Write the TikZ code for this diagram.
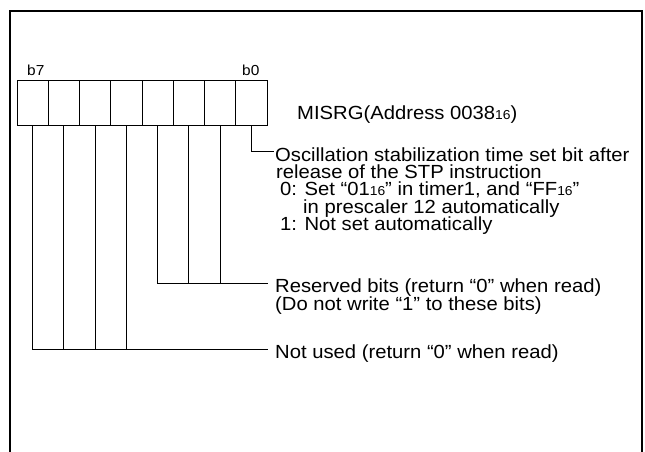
\documentclass[tikz,border=0pt]{standalone}
\usepackage{fontspec}
\setmainfont{Liberation Sans}[FakeStretch=1.065]
\newcommand{\subsix}{{\fontsize{13}{13}\selectfont 16}}
\begin{document}
\begin{tikzpicture}[x=1pt,y=-1pt,
  frame/.style={line width=2pt},
  cell/.style={draw, line width=0.9pt, minimum width=31.25pt, minimum height=45pt, inner sep=0pt, outer sep=0pt},
  conn/.style={line width=0.9pt},
  lbl/.style={anchor=base west, inner sep=0pt, font=\fontsize{19}{19}\selectfont},
  bitlbl/.style={anchor=base west, inner sep=0pt, font=\fontsize{14.5}{14.5}\selectfont}]
\useasboundingbox (0,0) rectangle (645,451);
\draw[frame] (10,452) -- (10,11) -- (642,11) -- (642,452);
% register cells, c0 = b0 (right) ... c7 = b7 (left)
\foreach \i in {0,...,7}
  \node[cell] (c\i) at ({267-15.625-31.25*\i},102.5) {};
\node[bitlbl] (b7) at (27,75) {b7};
\node[bitlbl] (b0) at (242,75) {b0};
\node[lbl] (name) at (297,119) {MISRG(Address 0038\subsix)};
% bit 0 description
\node[lbl] (o1) at (275,161.5) {Oscillation stabilization time set bit after};
\node[lbl] (o2) at (276,178.7) {release of the STP instruction};
\node[lbl] (o3) at (280,195.9) {0: Set “01\subsix” in timer1, and “FF\subsix”};
\node[lbl] (o4) at (303,213.1) {in prescaler 12 automatically};
\node[lbl] (o5) at (280,230.3) {1: Not set automatically};
% reserved
\node[lbl] (r1) at (275,292) {Reserved bits (return “0” when read)};
\node[lbl] (r2) at (275,310) {(Do not write “1” to these bits)};
% not used
\node[lbl] (n1) at (275,358.5) {Not used (return “0” when read)};
% connectors
\coordinate (oe) at (274,151.5);
\coordinate (re) at (268,283.5);
\coordinate (ne) at (268,349);
\draw[conn] (c0.south) |- (oe);
\draw[conn] (c3.south) |- (re);
\draw[conn] (c2.south) -- (c2.south |- re);
\draw[conn] (c1.south) -- (c1.south |- re);
\draw[conn] (c7.south) |- (ne);
\draw[conn] (c6.south) -- (c6.south |- ne);
\draw[conn] (c5.south) -- (c5.south |- ne);
\draw[conn] (c4.south) -- (c4.south |- ne);
\end{tikzpicture}
\end{document}
